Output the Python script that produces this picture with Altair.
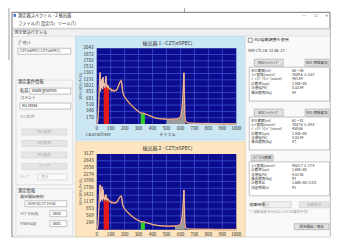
import altair as alt
import pandas as pd

# ---------------- data ----------------
channels = [0, 5, 10, 15, 20, 24, 27, 30, 34, 38, 42, 45, 50, 54, 58, 62, 66, 70, 74, 78,
            82, 88, 94, 100, 108, 116, 124, 132, 140, 148, 156, 164, 170, 175, 180, 186, 195,
            205, 215, 225, 235, 245, 255, 265, 275, 285, 295, 305, 315, 325, 335, 345, 355,
            365, 380, 395, 410, 425, 440, 460, 480, 500, 520, 540, 560, 580, 595, 605, 612,
            618, 622, 625, 628, 631, 635, 645, 660, 700, 750, 800, 850, 900, 950, 1000]
counts_det1 = [0, 30, 180, 650, 1150, 1390, 880, 1150, 980, 1210, 940, 1260, 1020, 1090, 980,
               1120, 1290, 1010, 1060, 980, 1020, 960, 930, 950, 890, 920, 880, 910, 900, 950,
               1030, 1110, 1150, 1170, 1080, 860, 760, 700, 650, 605, 560, 520, 480, 445, 410,
               380, 350, 320, 300, 285, 295, 275, 260, 245, 225, 200, 175, 160, 150, 140, 135,
               130, 125, 128, 132, 140, 165, 240, 430, 780, 1120, 1380, 760, 230, 90, 40, 25,
               18, 14, 12, 10, 9, 7, 6]
counts_det2 = [0, 40, 250, 900, 1500, 1850, 1150, 1500, 1250, 1780, 1200, 1650, 1280, 1350, 1230,
               1300, 1450, 1240, 1290, 1210, 1250, 1190, 1150, 1170, 1100, 1130, 1090, 1120, 1110,
               1170, 1250, 1330, 1370, 1390, 1290, 1020, 900, 820, 760, 700, 640, 590, 545, 500,
               460, 425, 390, 360, 335, 320, 330, 305, 290, 275, 250, 225, 200, 185, 172, 162,
               155, 150, 146, 148, 152, 162, 190, 280, 500, 900, 1300, 1640, 900, 270, 100, 45,
               30, 20, 16, 14, 12, 10, 8, 7]
x_ticks = [0, 100, 200, 300, 400, 500, 600, 700, 800, 900, 1000]
y_ticks_det1 = [170, 340, 510, 681, 851, 1021, 1191, 1361, 1531, 1702, 1872, 2042]
y_ticks_det2 = [284, 569, 853, 1137, 1421, 1706, 1990, 2274, 2558, 2843, 3127]
roi_start_det1 = [50, 315, 500]
roi_end_det1 = [88, 345, 635]
roi_start_det2 = [50, 315, 560]
roi_end_det2 = [88, 345, 635]
titles = ["検出器 1 - CZT(e5PEC)", "検出器 2 - CZT(e5PEC)"]

# ---------------- styling / layout ----------------
FONT = "Noto Sans CJK JP"
ROI_COLORS = ["#e3191c", "#2fd12f", "#9c9c9c"]
PLOT_BG = "#0b0d8e"
GRID = "#3c4ed2"
PLOT_W, PLOT_H = 140, 76
OX, TOP_Y, BOT_Y = 97, 48, 154
PAGE_R, PAGE_B = 331, 237
TXT = "#303030"
GREY_TXT = "#a8a8a8"

one = pd.DataFrame({"k": [0]})


def chrome_layers(rects, texts, ox, oy):
    """UI chrome (window, panels, labels) drawn at fixed pixel positions."""
    layers = []
    for (x0, y0, x1, y1, fill, stroke) in rects:
        kw = dict(fill=fill, strokeWidth=0.7)
        if stroke:
            kw["stroke"] = stroke
        layers.append(alt.Chart(one).mark_rect(**kw).encode(
            x=alt.value(x0 - ox), x2=alt.value(x1 - ox),
            y=alt.value(y0 - oy), y2=alt.value(y1 - oy)))
    tdf = pd.DataFrame(texts, columns=["x", "y", "text", "size", "color", "align", "angle"])
    tdf["x"] -= ox
    tdf["y"] -= oy
    for (al, ang, sz, col), sub in tdf.groupby(["align", "angle", "size", "color"]):
        layers.append(alt.Chart(sub).mark_text(
            font=FONT, baseline="middle", align=al, angle=int(ang), fontSize=float(sz), color=col
        ).encode(x=alt.X("x:Q", scale=None, axis=None), y=alt.Y("y:Q", scale=None, axis=None),
                 text="text:N"))
    return layers


def T(x, y, s, size=4.3, color=TXT, align="left", angle=0):
    return (x, y, s, size, color, align, angle)


# page chrome (window, left and right panels)
rects = [
    (8, 8, PAGE_R, PAGE_B, "#ffffff", None),
    (8, 8, 10, 60, "#cfcfcf", None),
    (184.5, 8, 185.5, 12, "#9a9a9a", None),
    (12, 12, PAGE_R, PAGE_B, "#ffffff", "#3a3a3a"),
    (13.5, 13.5, 16, 16.5, "#4a7bc8", None),
    (13, 27.5, PAGE_R, 29.5, "#d2d2d2", None),
    (13, 29.5, PAGE_R, 36, "#f0f0f0", None),
    (13, 29.5, 28, 36, "#ffffff", "#c4c4c4"),
    (28, 30, 46, 36, "#f0f0f0", "#cccccc"),
    (13, 36, PAGE_R, PAGE_B, "#f0f0f0", None),
    (13, 36, 76, PAGE_B, "#f6f6f6", "#dcdcdc"),
    (76, 36, 246, 140, "#cbe7f4", "#b8d8ea"),
    (246, 36, PAGE_R, PAGE_B, "#f9f9f9", "#dcdcdc"),
    # left panel
    (18, 48, 71, 54, "#ffffff", "#a9a9a9"),
    (16, 80, 73, 185, "transparent", "#d6d6d6"),
    (30, 88, 71, 94, "#ffffff", "#a9a9a9"),
    (20, 103, 71, 109, "#ffffff", "#a9a9a9"),
    (22, 129, 67, 135, "#e6e6e6", "#d4d4d4"),
    (22, 140.5, 67, 146.5, "#e6e6e6", "#d4d4d4"),
    (22, 152, 67, 158, "#e6e6e6", "#d4d4d4"),
    (22, 163.5, 67, 169.5, "#e6e6e6", "#d4d4d4"),
    (38, 174, 67, 180, "#fafafa", "#d0d0d0"),
    (16, 189, 73, 236, "transparent", "#d6d6d6"),
    (25, 201, 67, 207, "#ffffff", "#a9a9a9"),
    (50, 211, 67, 217, "#ffffff", "#a9a9a9"),
    (50, 221, 67, 227, "#ffffff", "#a9a9a9"),
    # right panel
    (249, 38, 253, 42, "#ffffff", "#6a6a6a"),
    (255, 59, 284, 66, "#e1e1e1", "#adadad"),
    (306, 59, 330, 66, "#e1e1e1", "#adadad"),
    (250, 67, 330.5, 101, "#ffffff", "#a8a8a8"),
    (255, 109, 284, 116, "#e1e1e1", "#adadad"),
    (306, 109, 330, 116, "#e1e1e1", "#adadad"),
    (250, 117, 330.5, 150, "#ffffff", "#a8a8a8"),
    (252, 155, 274, 161, "#e1e1e1", "#adadad"),
    (250, 162, 330.5, 196, "#ffffff", "#a8a8a8"),
    (264, 202, 292, 208, "#f0f0f0", "#c8c8c8"),
    (300, 202, 330, 208, "#e6e6e6", "#d0d0d0"),
    (295, 224, 330, 230, "#e1e1e1", "#adadad"),
]

texts = [
    T(18, 15.5, "測定器スペクトル - 2 検出器", 4.3),
    T(305, 15.5, "—", 4.3, "#666666", "center"),
    T(317, 15.5, "☐", 4.3, "#666666", "center"),
    T(327, 15.5, "✕", 4.3, "#666666", "center"),
    T(18, 24, "ファイル(F)", 4.3), T(41, 24, "設定(S)", 4.3), T(58, 24, "ツール(T)", 4.3),
    T(20.5, 33, "測定値", 4.2, TXT, "center"), T(37, 33, "スペクトル", 4.2, TXT, "center"),
    # left panel
    T(18, 43, "ﾌﾟﾘｾｯﾄ", 4.3),
    T(20, 51, "CZT(e5PEC)-CZT(e5PEC)", 3.6),
    T(18, 82, "測定条件情報", 4.3),
    T(20, 91, "名前", 4.3), T(32, 91, "Book gnomes", 3.9),
    T(20, 98, "コメント", 4.0), T(22, 106, "BG Meas", 3.9),
    T(20, 117, "ROI範囲", 4.0, GREY_TXT),
    T(44.5, 132, "ROI追加", 3.8, GREY_TXT, "center"),
    T(44.5, 143.5, "ROI削除", 3.8, GREY_TXT, "center"),
    T(44.5, 155, "ROI編集", 3.8, GREY_TXT, "center"),
    T(44.5, 166.5, "クリア", 3.8, GREY_TXT, "center"),
    T(20, 177, "ｽﾃｯﾌﾟ", 4.0, GREY_TXT), T(41, 177, "表示", 3.8, GREY_TXT),
    T(18, 191, "測定情報", 4.3),
    T(20, 197.5, "測定開始時刻", 4.0),
    T(27, 204, "2019/10/27 14:00", 3.6),
    T(20, 214, "ﾗｲﾌﾞﾀｲﾑ(s)", 4.0), T(53, 214, "0800", 3.6),
    T(20, 224, "ﾘｱﾙﾀｲﾑ(s)", 4.0), T(53, 224, "0801", 3.6),
    # right panel
    T(255, 40, "ROI自動調整を使用", 4.0),
    T(249, 51, "Kev-Ch:   2a- 13   4a- 17", 3.8),
    T(269.5, 62.5, "ROIﾌｨｯﾃｨﾝｸﾞ", 3.7, TXT, "center"),
    T(318, 62.5, "ROI 情報編集", 3.7, TXT, "center"),
    T(269.5, 112.5, "ROIﾌｨｯﾃｨﾝｸﾞ", 3.7, TXT, "center"),
    T(318, 112.5, "ROI 情報編集", 3.7, TXT, "center"),
    T(263, 158, "ｽﾍﾟｸﾄﾙ情報", 3.7, TXT, "center"),
    T(250, 205, "積算時間", 4.0), T(266, 205, "11", 3.8, GREY_TXT),
    T(315, 205, "自動設定", 3.7, GREY_TXT, "center"),
    T(250, 212.5, "□ 自動設定を行わない(ﾏｳｽの操作不可)", 3.4, "#8a8a8a"),
    T(312.5, 227, "測定開始 / 保存", 3.6, TXT, "center"),
]
rows1 = [("ROI 範囲[ch]", "60 ~ 86"), ("ﾈｯﾄ面積[count]", "3029.6 ± 2.67"),
         ("ﾊﾞｯｸｸﾞﾗｳﾝﾄﾞ[count]", "463.84"), ("計数率[cps]", "1.92E+00"),
         ("半値幅[%]", "5.52 84"), ("検出限界[Bq]", "84")]
rows2 = [("ROI 範囲[ch]", "61 ~ 81"), ("ﾈｯﾄ面積[count]", "3027.6 ± 29.8"),
         ("ﾊﾞｯｸｸﾞﾗｳﾝﾄﾞ[count]", "458.66"), ("計数率[cps]", "1.92E+00"),
         ("半値幅[%]", "4.52 84"), ("検出限界[Bq]", "87")]
rows3 = [("ﾈｯﾄ面積[count]", "9021.7 ± 17.4"), ("計数率[cps]", "1.60E+00"),
         ("半値幅[%]", "4.51 05"), ("検出限界[Bq]", "93"),
         ("計数率比", "1.60E+00 (1.03)"), ("測定時間[s]", "93")]
for rows, y0 in ((rows1, 70.5), (rows2, 120.5), (rows3, 166)):
    for i, (a, b) in enumerate(rows):
        texts.append(T(252, y0 + i * 4.4, a, 3.5))
        texts.append(T(293, y0 + i * 4.4, b, 3.5))

# chart-panel text
top_texts = [
    T(168, 42.5, titles[0], 5.0, TXT, "center"),
    T(86, 135, "Cal.ol   Nch   Kev", 3.8),
    T(168, 135, "チャネル", 4.0, TXT, "center"),
    T(81, 86, "ｶｳﾝﾄ(ｶｳﾝﾄ/ﾁｬﾈﾙ)", 3.8, TXT, "center", 270),
]
bot_rects = [(76, 142, 246, PAGE_B, "#fde6bf", "#ecd3a8")]
bot_texts = [
    T(168, 148, titles[1], 5.0, TXT, "center"),
    T(81, 192, "ｶｳﾝﾄ(ｶｳﾝﾄ/ﾁｬﾈﾙ)", 3.8, TXT, "center", 270),
]


def detector_chart(counts, y_ticks, roi_start, roi_end, chrome):
    df = pd.DataFrame({"ch": channels, "count": counts})
    xs = alt.Scale(domain=[x_ticks[0], x_ticks[-1]], nice=False, zero=False)
    ys = alt.Scale(domain=[0, y_ticks[-1]], nice=False)
    X = alt.X("ch:Q", scale=xs, axis=None)
    Y = alt.Y("count:Q", scale=ys, axis=None)
    bg = alt.Chart(one).mark_rect(color=PLOT_BG).encode(
        x=alt.value(0), x2=alt.value(PLOT_W), y=alt.value(0), y2=alt.value(PLOT_H))
    vgrid = alt.Chart(pd.DataFrame({"ch": x_ticks[1:-1]})).mark_rule(
        color=GRID, strokeWidth=0.8).encode(x=X)
    hgrid = alt.Chart(pd.DataFrame({"v": y_ticks[:-1]})).mark_rule(
        color=GRID, strokeWidth=0.8).encode(y=alt.Y("v:Q", scale=ys, axis=None))
    areas = []
    for s, e, c in zip(roi_start, roi_end, ROI_COLORS):
        sub = df[(df["ch"] >= s) & (df["ch"] <= e)]
        areas.append(alt.Chart(sub).mark_area(color=c).encode(x=X, y=Y))
    line_under = alt.Chart(df).mark_line(stroke="#b8643e", strokeWidth=1.5).encode(x=X, y=Y)
    line_top = alt.Chart(df).mark_line(stroke="#f6d5cb", strokeWidth=0.8).encode(x=X, y=Y)
    xlab = alt.Chart(pd.DataFrame({"ch": x_ticks})).mark_text(
        font=FONT, fontSize=4.6, color=TXT, baseline="middle", align="center").encode(
        x=X, y=alt.value(PLOT_H + 5.5), text=alt.Text("ch:Q", format="d"))
    ylab = alt.Chart(pd.DataFrame({"v": y_ticks})).mark_text(
        font=FONT, fontSize=4.6, color=TXT, baseline="middle", align="right").encode(
        y=alt.Y("v:Q", scale=ys, axis=None), x=alt.value(-3),
        text=alt.Text("v:Q", format="d"))
    layers = chrome + [bg, vgrid, hgrid] + areas + [line_under, line_top, xlab, ylab]
    return alt.layer(*layers).properties(width=PLOT_W, height=PLOT_H)


top = detector_chart(counts_det1, y_ticks_det1, roi_start_det1, roi_end_det1,
                     chrome_layers(rects, texts + top_texts, OX, TOP_Y))
bottom = detector_chart(counts_det2, y_ticks_det2, roi_start_det2, roi_end_det2,
                        chrome_layers(bot_rects, bot_texts, OX, BOT_Y))

chart = alt.vconcat(top, bottom, spacing=BOT_Y - TOP_Y - PLOT_H, bounds="flush").properties(
    padding=0).configure_view(strokeWidth=0)

chart.save("out.html", embed_options={"renderer": "svg", "actions": False})
